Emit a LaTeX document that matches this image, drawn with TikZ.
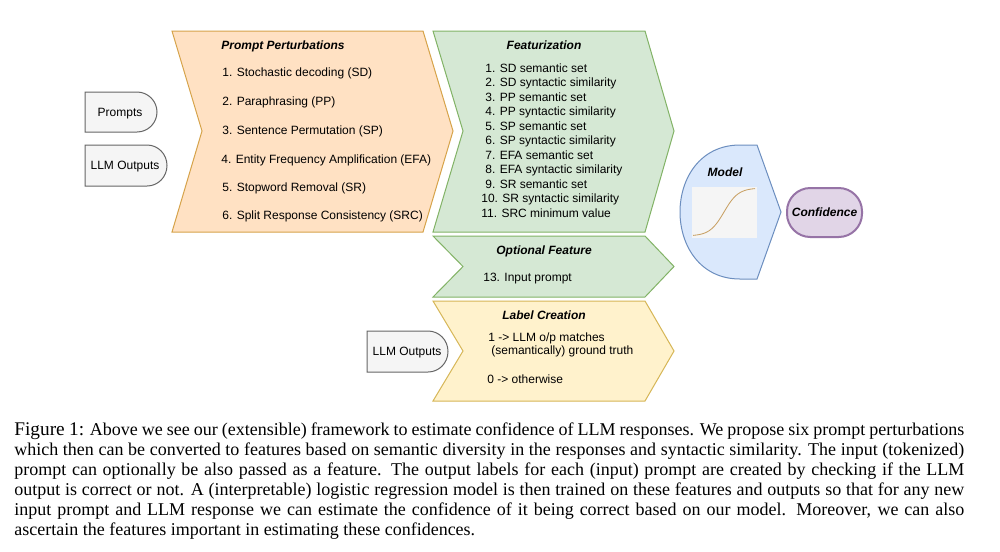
\documentclass[tikz,border=0pt]{standalone}
\usepackage{fontspec}
\setmainfont{Liberation Serif}
\setsansfont{Liberation Sans}
\definecolor{ppfill}{HTML}{FFE1C3}
\definecolor{ppdraw}{HTML}{D6A34A}
\definecolor{gfill}{HTML}{D5E8D4}
\definecolor{gdraw}{HTML}{82B366}
\definecolor{yfill}{HTML}{FFF2CC}
\definecolor{ydraw}{HTML}{D6B656}
\definecolor{bfill}{HTML}{DAE8FC}
\definecolor{bdraw}{HTML}{6C8EBF}
\definecolor{pfill}{HTML}{E1D5E7}
\definecolor{pdraw}{HTML}{9673A6}
\definecolor{grfill}{HTML}{F5F5F5}
\definecolor{grdraw}{HTML}{666666}
\definecolor{sig}{HTML}{C8A064}
\tikzset{
  lab/.style={font=\sffamily\fontsize{7.2}{8.6}\selectfont, inner sep=0pt, text=black},
  ttl/.style={font=\sffamily\bfseries\itshape\fontsize{7.2}{8.6}\selectfont, inner sep=0pt, text=black, anchor=base},
  itm/.style={lab, anchor=base west},
  chev/.style={line width=0.6pt, line join=miter},
  delaybox/.style={fill=grfill, draw=grdraw, line width=0.6pt},
}
\begin{document}
\begin{tikzpicture}[x=0.6pt,y=-0.6pt]
\useasboundingbox (0,0) rectangle (1000,551);
\fill[white] (0,0) rectangle (1000,551);

% input shapes
\draw[delaybox] (85,92) -- (137,92) .. controls (148,92) and (157,101) .. (157,112) .. controls (157,123) and (148,132) .. (137,132) -- (85,132) -- cycle;
\node[lab, anchor=base] (prompts) at (120,116.3) {Prompts};
\draw[delaybox] (85,145) -- (147,145) .. controls (158,145) and (167,154) .. (167,165.5) .. controls (167,177) and (158,186) .. (147,186) -- (85,186) -- cycle;
\node[lab, anchor=base] (llm1) at (125,169.8) {LLM Outputs};
\draw[delaybox] (367,331) -- (428,331) .. controls (439,331) and (448,340) .. (448,351.5) .. controls (448,363) and (439,372) .. (428,372) -- (367,372) -- cycle;
\node[lab, anchor=base] (llm2) at (407,355.8) {LLM Outputs};

% chevrons
\draw[chev, fill=ppfill, draw=ppdraw] (172,31) -- (423,31) -- (453,131) -- (423,232) -- (172,232) -- (202,131) -- cycle;
\draw[chev, fill=gfill, draw=gdraw] (433,31) -- (645,31) -- (674,131) -- (645,232) -- (433,232) -- (463,131) -- cycle;
\draw[chev, fill=gfill, draw=gdraw] (433,236) -- (645,236) -- (674,266.5) -- (645,297) -- (433,297) -- (463,266.5) -- cycle;
\draw[chev, fill=yfill, draw=ydraw] (433,301) -- (645,301) -- (674,351) -- (645,401) -- (433,401) -- (463,351) -- cycle;

% Prompt perturbations
\node[ttl] (pptitle) at (283,49.3) {Prompt Perturbations};
\node[itm] (pp1) at (222,76.3) {1. Stochastic decoding (SD)};
\node[itm] (pp2) at (222,105.3) {2. Paraphrasing (PP)};
\node[itm] (pp3) at (222,134.3) {3. Sentence Permutation (SP)};
\node[itm] (pp4) at (221,163.3) {4. Entity Frequency Amplification (EFA)};
\node[itm] (pp5) at (222,191.3) {5. Stopword Removal (SR)};
\node[itm] (pp6) at (222,219.3) {6. Split Response Consistency (SRC)};

% Featurization
\node[ttl] (fttitle) at (544,49.3) {Featurization};
\node[itm] (f1) at (485,72.3) {1. SD semantic set};
\node[itm] (f2) at (485,86.8) {2. SD syntactic similarity};
\node[itm] (f3) at (485,101.3) {3. PP semantic set};
\node[itm] (f4) at (485,115.8) {4. PP syntactic similarity};
\node[itm] (f5) at (485,130.3) {5. SP semantic set};
\node[itm] (f6) at (485,144.8) {6. SP syntactic similarity};
\node[itm] (f7) at (485,159.3) {7. EFA semantic set};
\node[itm] (f8) at (485,173.8) {8. EFA syntactic similarity};
\node[itm] (f9) at (485,188.3) {9. SR semantic set};
\node[itm] (f10) at (481,202.8) {10. SR syntactic similarity};
\node[itm] (f11) at (481,217.3) {11. SRC minimum value};

% Optional feature
\node[ttl] (opttitle) at (544,254.3) {Optional Feature};
\node[itm] (opt1) at (483,281.3) {13. Input prompt};

% Label creation
\node[ttl] (lctitle) at (544,319.3) {Label Creation};
\node[itm] (lc1) at (488,341.3) {1 {-}> LLM o/p matches};
\node[itm] (lc2) at (491,354.8) {(semantically) ground truth};
\node[itm] (lc3) at (487,383.3) {0 {-}> otherwise};

% Model
\draw[fill=bfill, draw=bdraw, line width=0.6pt] (740,145) -- (757,145) -- (781,212) -- (757,279) -- (740,279) .. controls (660,279) and (660,145) .. (740,145) -- cycle;
\node[ttl] (model) at (725,176.3) {Model};
\fill[grfill] (692,187) rectangle (757,238);
\draw[sig, line width=0.5pt] plot[domain=693:755, samples=50] (\x, {236-48/(1+exp(-0.14*(\x-724)))});

% Confidence
\draw[fill=pfill, draw=pdraw, line width=1.2pt, rounded corners=14pt] (787,188) rectangle (862,237);
\node[ttl] (conf) at (824.5,216.8) {Confidence};

% caption
\node[anchor=base west, inner sep=0pt] (caption) at (14,435) {\parbox[t]{570pt}{\fontsize{10.8}{12}\selectfont
{\fontsize{11.6}{12}\selectfont Figure 1:} Above we see our (extensible) framework to estimate confidence of LLM responses. We propose six prompt perturbations\linebreak
which then can be converted to features based on semantic diversity in the responses and syntactic similarity. The input (tokenized)\linebreak
prompt can optionally be also passed as a feature. The output labels for each (input) prompt are created by checking if the LLM\linebreak
output is correct or not. A (interpretable) logistic regression model is then trained on these features and outputs so that for any new\linebreak
input prompt and LLM response we can estimate the confidence of it being correct based on our model. Moreover, we can also\linebreak
ascertain the features important in estimating these confidences.}};
\end{tikzpicture}
\end{document}
